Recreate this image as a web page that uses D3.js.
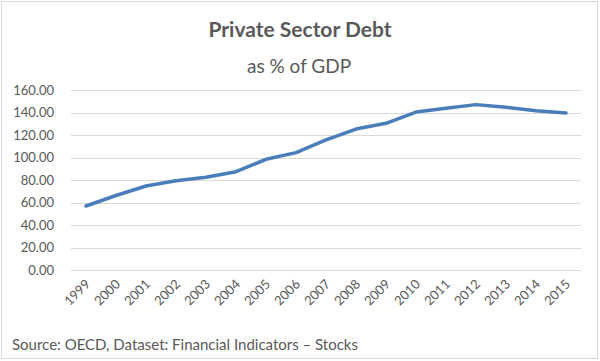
<!DOCTYPE html>
<html>
<head>
<meta charset="utf-8">
<script src="https://cdn.jsdelivr.net/npm/d3@7"></script>
<style>
  body { margin: 0; background: #fff; }
  svg { display: block; font-family: Lato, "Open Sans", sans-serif; }
</style>
</head>
<body>
<svg id="chart" width="600" height="361"></svg>
<script>
// data
var years = ["1999", "2000", "2001", "2002", "2003", "2004", "2005", "2006", "2007",
             "2008", "2009", "2010", "2011", "2012", "2013", "2014", "2015"];
var debt = [56.9, 66.2, 74.7, 79.4, 82.4, 87.4, 98.4, 104.3, 115.6,
            125.3, 130.4, 140.4, 143.7, 147.0, 144.6, 141.6, 139.6];
var yTicks = [0, 20, 40, 60, 80, 100, 120, 140, 160];

var svg = d3.select("#chart");
var textColor = "#595959";

// outer border like the excel chart area
svg.append("rect")
    .attr("x", 1.5).attr("y", 1.5)
    .attr("width", 596).attr("height", 357)
    .attr("fill", "#fff").attr("stroke", "#d9d9d9");

var x = d3.scaleBand().domain(years).range([71, 581]);
var y = d3.scaleLinear().domain([0, 160]).range([270, 90]);

// gridlines
svg.append("g").selectAll("line")
    .data(yTicks)
    .join("line")
    .attr("x1", 71).attr("x2", 581)
    .attr("y1", d => Math.round(y(d)) + 0.5)
    .attr("y2", d => Math.round(y(d)) + 0.5)
    .attr("stroke", "#d9d9d9")
    .attr("stroke-width", 1);

// y axis labels
var yAxis = d3.axisLeft(y).tickValues(yTicks).tickSize(0).tickPadding(0)
    .tickFormat(d3.format(".2f"));
var gy = svg.append("g").attr("transform", "translate(54,0)").call(yAxis);
gy.select(".domain").remove();
gy.selectAll("text").attr("fill", textColor).style("font-size", "13px")
    .style("font-family", "Lato, 'Open Sans', sans-serif");

// x axis labels, rotated
var xAxis = d3.axisBottom(x).tickSize(0).tickPadding(0);
var gx = svg.append("g").attr("transform", "translate(0,270)").call(xAxis);
gx.select(".domain").remove();
gx.selectAll("text")
    .attr("fill", textColor)
    .style("font-size", "13px")
    .style("font-family", "Lato, 'Open Sans', sans-serif")
    .attr("text-anchor", "end")
    .attr("dy", null)
    .attr("y", 0)
    .attr("transform", "translate(5,15) rotate(-45)");

// the line
var line = d3.line()
    .x((d, i) => x(years[i]) + x.bandwidth() / 2)
    .y(d => y(d));

svg.append("path")
    .datum(debt)
    .attr("d", line)
    .attr("fill", "none")
    .attr("stroke", "#4a7ebb")
    .attr("stroke-width", 3.5)
    .attr("stroke-linejoin", "round")
    .attr("stroke-linecap", "round");

// titles
svg.append("text")
    .attr("x", 300).attr("y", 37)
    .attr("text-anchor", "middle")
    .attr("fill", textColor)
    .style("font-size", "21px")
    .style("font-weight", "bold")
    .text("Private Sector Debt");

svg.append("text")
    .attr("x", 299).attr("y", 73)
    .attr("text-anchor", "middle")
    .attr("fill", textColor)
    .style("font-size", "19px")
    .text("as % of GDP");

// source note
svg.append("text")
    .attr("x", 12).attr("y", 350)
    .attr("fill", textColor)
    .style("font-size", "15px")
    .text("Source: OECD, Dataset: Financial Indicators \u2013 Stocks");
</script>
</body>
</html>
